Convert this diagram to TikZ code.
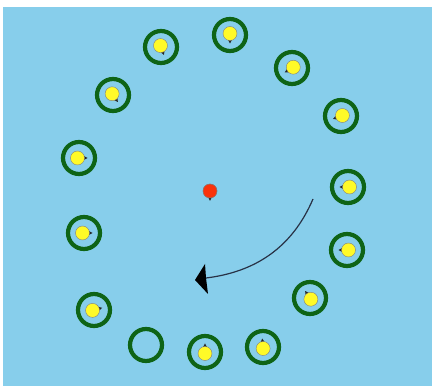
\documentclass[tikz,border=0pt]{standalone}
\usetikzlibrary{calc}
\definecolor{sky}{RGB}{135,206,235}
\definecolor{ringgreen}{RGB}{14,100,22}
\definecolor{dotyellow}{RGB}{255,250,40}
\definecolor{dotred}{RGB}{250,50,10}
\definecolor{curvegray}{RGB}{40,50,70}
\tikzset{
  ring/.style={circle, draw=ringgreen, line width=4.2pt, minimum size=32pt, inner sep=0pt},
  ydot/.style={circle, fill=dotyellow, draw=black!50, line width=0.4pt, minimum size=14pt, inner sep=0pt},
  rdot/.style={circle, fill=dotred, draw=black!50, line width=0.4pt, minimum size=14pt, inner sep=0pt},
  tail/.style={fill=black!85}
}
\newcommand{\pinring}[4]{%
  \node[ring] (#1) at (#2,{386-#3}) {};
  \begin{scope}[shift={(#1)}, rotate=#4]
    \fill[tail] (8.5,0) -- (3,3) -- (3,-3) -- cycle;
    \node[ydot] (#1d) at (-1.5,0) {};
  \end{scope}}
\begin{document}
\begin{tikzpicture}[x=1pt,y=1pt]
\useasboundingbox (0,0) rectangle (432,386);
\fill[white] (0,0) rectangle (432,386);
\fill[sky] (3,0) rectangle (432,379);
\pinring{r1}{161}{47}{-70}
\pinring{r2}{230}{35}{-90}
\pinring{r3}{292}{68}{-148}
\pinring{r4}{341}{116}{200}
\pinring{r5}{348}{187}{180}
\pinring{r6}{347}{250}{180}
\pinring{r7}{310}{298}{125}
\pinring{r8}{263}{347}{95}
\pinring{r9}{205}{352}{90}
\node[ring] (r10) at (146,{386-345}) {};
\pinring{r11}{94}{310}{15}
\pinring{r12}{84}{233}{0}
\pinring{r13}{79}{158}{0}
\pinring{r14}{113}{95}{-55}
% red centre dot
\node[rdot] (c) at (210,{386-191}) {};
\fill[tail] ($(c)+(0,-10)$) -- ($(c)+(-3,-4)$) -- ($(c)+(3,-4)$) -- cycle;
\node[rdot] at (c) {};
% curved arrow
\coordinate (s) at (313,{386-199});
\coordinate (e) at (206,{386-278});
\draw[curvegray, line width=1.2pt] (s) .. controls (292,{386-248}) and (255,{386-272}) .. (e);
\fill[black] (205,{386-264}) -- (195,{386-280}) -- (208,{386-294}) -- (206,{386-278}) -- cycle;
\end{tikzpicture}
\end{document}
